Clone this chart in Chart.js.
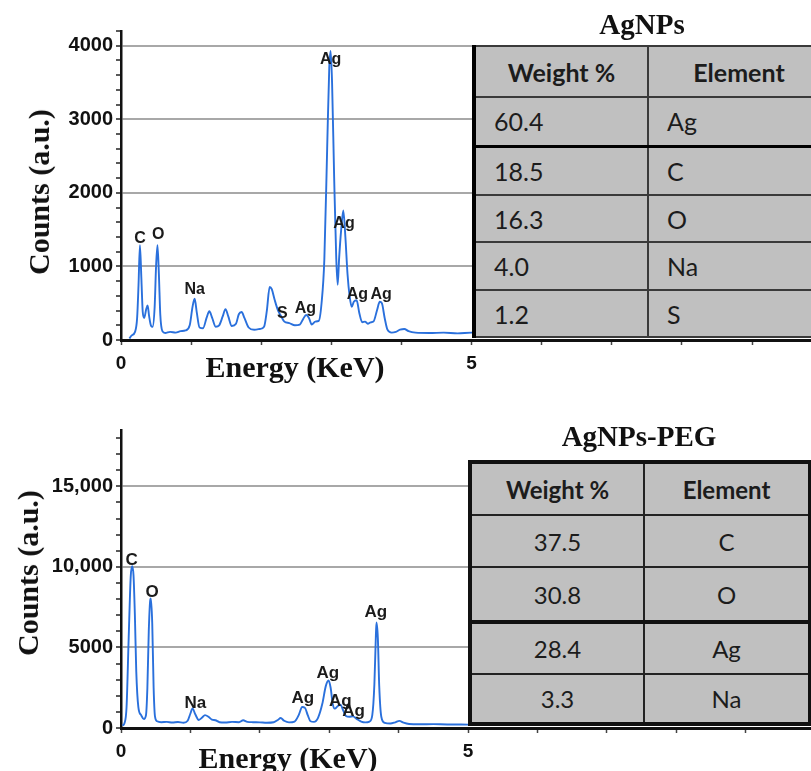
<!DOCTYPE html>
<html>
<head>
<meta charset="utf-8">
<title>EDS spectra - AgNPs / AgNPs-PEG</title>
<script src="https://cdn.jsdelivr.net/npm/chart.js@4.4.1/dist/chart.umd.min.js"></script>
<style>
  html, body { margin: 0; padding: 0; background: #fff; overflow: hidden; }
  #page { position: relative; width: 811px; height: 771px; overflow: hidden; }
  #page canvas { position: absolute; left: 0; }
  .axis-title {
    position: absolute;
    font-family: 'Liberation Serif', 'Times New Roman', serif;
    font-weight: bold; font-size: 30px; line-height: 30px;
    white-space: nowrap; color: #111;
  }
  .axis-title.vert { transform: translate(-50%, -50%) rotate(-90deg); }
  .axis-title.horiz { transform: translateX(-50%); }
  .panel-title {
    position: absolute; width: 240px; margin-left: -120px; text-align: center;
    font-family: 'Liberation Serif', 'Times New Roman', serif;
    font-weight: bold; font-size: 29px; line-height: 29px; color: #111;
  }
  table.eds {
    position: absolute; border-collapse: collapse; table-layout: fixed;
    background: #c0c0c0; color: #1c1c1c;
    font-family: Lato, 'Open Sans', sans-serif;
  }
  table.eds td { padding: 0; vertical-align: middle; }
  #tableTop { left: 472px; top: 45px; font-size: 25px; border-left: 4px solid #000; border-top: 2px solid #333; }
  #tableTop td { border: 2px solid #3a3a3a; padding-left: 18px; }
  #tableTop tr.head td { font-weight: bold; text-align: center; padding-left: 0; }
  #tableTop tr.split td { border-bottom: 3px solid #000; }
  #tableBottom { left: 468px; top: 460px; font-size: 24px; border: 4px solid #111; }
  #tableBottom td { border: 2px solid #222; text-align: center; }
  #tableBottom tr.head td { font-weight: bold; }
  #tableBottom tr.split td { border-bottom: 4px solid #111; }
</style>
</head>
<body>
<div id="page">
  <canvas id="edsTop" width="811" height="400" style="top:0"></canvas>
  <canvas id="edsBottom" width="811" height="371" style="top:400px"></canvas>

  <table class="eds" id="tableTop"></table>
  <table class="eds" id="tableBottom"></table>

  <div class="panel-title" style="left:642px; top:10px">AgNPs</div>
  <div class="panel-title" style="left:639px; top:422px">AgNPs-PEG</div>

  <div class="axis-title vert" style="left:39px; top:192px">Counts (a.u.)</div>
  <div class="axis-title horiz" style="left:295px; top:352px">Energy (KeV)</div>
  <div class="axis-title vert" style="left:28px; top:573px">Counts (a.u.)</div>
  <div class="axis-title horiz" style="left:288px; top:743px">Energy (KeV)</div>
</div>

<script>
// ---- AgNPs spectrum (energy in keV, counts) ----
const energyTop = [
  0.12, 0.15, 0.20, 0.23, 0.25, 0.27, 0.29, 0.31, 0.33, 0.36, 0.38, 0.40, 0.43, 0.45,
  0.48, 0.50, 0.52, 0.54, 0.56, 0.59, 0.63, 0.70, 0.78, 0.85, 0.92, 0.98, 1.02, 1.05,
  1.08, 1.12, 1.17, 1.22, 1.26, 1.30, 1.35, 1.40, 1.45, 1.49, 1.53, 1.58, 1.64, 1.68,
  1.72, 1.76, 1.82, 1.90, 1.98, 2.04, 2.08, 2.12, 2.15, 2.19, 2.24, 2.28, 2.33, 2.40,
  2.48, 2.55, 2.60, 2.64, 2.68, 2.72, 2.77, 2.82, 2.86, 2.90, 2.94, 2.97, 2.99, 3.01,
  3.04, 3.07, 3.09, 3.11, 3.14, 3.17, 3.20, 3.23, 3.26, 3.29, 3.32, 3.36, 3.40, 3.44,
  3.48, 3.52, 3.56, 3.60, 3.65, 3.69, 3.72, 3.76, 3.80, 3.86, 3.92, 3.98, 4.04, 4.10,
  4.20, 4.40, 4.60, 4.80, 5.00, 5.40, 6.00, 7.00, 8.00, 9.00, 9.84
];
const countsTop = [
  20, 60, 110, 300, 750, 1290, 850, 380, 300, 420, 470, 330, 190, 180,
  450, 1000, 1290, 900, 350, 120, 95, 110, 100, 120, 130, 200, 450, 560,
  380, 170, 160, 300, 390, 300, 180, 200, 320, 420, 320, 190, 220, 350,
  380, 300, 170, 140, 150, 180, 400, 720, 690, 550, 400, 330, 250, 230,
  200, 210, 290, 340, 300, 210, 250, 260, 500, 1100, 2600, 3700, 3930, 3500,
  2200, 1100, 750, 1100, 1500, 1760, 1400, 900, 600, 450, 520, 540, 360, 240,
  250, 220, 240, 250, 400, 520, 500, 300, 140, 100, 110, 140, 150, 120,
  100, 95, 100, 90, 100, 95, 90, 90, 85, 85, 80
];
const peakTextTop = ['C', 'O', 'Na', 'S', 'Ag', 'Ag', 'Ag', 'Ag', 'Ag'];
const peakEnergyTop = [0.27, 0.53, 1.05, 2.30, 2.63, 2.99, 3.18, 3.37, 3.71];
const peakCountsTop = [1374, 1429, 688, 354, 427, 3810, 1588, 620, 620];
const yTickValsTop = [0, 1000, 2000, 3000, 4000];
const yTickTextTop = ['0', '1000', '2000', '3000', '4000'];

// ---- AgNPs-PEG spectrum ----
const energyBottom = [
  0.02, 0.05, 0.08, 0.11, 0.14, 0.16, 0.18, 0.20, 0.22, 0.25, 0.29, 0.33, 0.36, 0.38,
  0.40, 0.42, 0.43, 0.45, 0.47, 0.49, 0.52, 0.58, 0.66, 0.74, 0.82, 0.90, 0.96, 1.00,
  1.03, 1.07, 1.12, 1.17, 1.21, 1.26, 1.31, 1.36, 1.42, 1.50, 1.60, 1.70, 1.76, 1.82,
  1.90, 2.00, 2.10, 2.20, 2.26, 2.30, 2.35, 2.42, 2.50, 2.56, 2.61, 2.65, 2.69, 2.73,
  2.78, 2.84, 2.90, 2.95, 2.99, 3.02, 3.05, 3.08, 3.12, 3.16, 3.20, 3.24, 3.29, 3.34,
  3.40, 3.46, 3.52, 3.58, 3.62, 3.65, 3.67, 3.68, 3.70, 3.72, 3.75, 3.80, 3.88, 3.95,
  4.01, 4.07, 4.15, 4.30, 4.50, 4.70, 4.90, 5.10, 6.00, 8.00, 9.94
];
const countsBottom = [
  150, 300, 1300, 5500, 9400, 10050, 9500, 7000, 3500, 1300, 800, 550, 800, 2500,
  6000, 7900, 8050, 6500, 2500, 700, 420, 360, 380, 340, 370, 330, 450, 900,
  1220, 850, 500, 650, 800, 700, 520, 480, 360, 340, 380, 360, 480, 380,
  360, 350, 330, 360, 500, 620, 450, 350, 400, 800, 1300, 1250, 800, 420,
  380, 650, 1500, 2600, 2950, 2500, 1500, 1200, 1350, 1450, 1100, 750, 700, 720,
  550, 400, 350, 400, 800, 2700, 5500, 6550, 5600, 2600, 700, 320, 280, 350,
  440, 330, 250, 230, 240, 220, 220, 200, 200, 190, 190
];
const peakTextBottom = ['C', 'O', 'Na', 'Ag', 'Ag', 'Ag', 'Ag', 'Ag'];
const peakEnergyBottom = [0.154, 0.447, 1.07, 2.62, 2.98, 3.16, 3.35, 3.67];
const peakCountsBottom = [10435, 8447, 1520, 1840, 3400, 1630, 1010, 7170];
const yTickValsBottom = [0, 5000, 10000, 15000];
const yTickTextBottom = ['0', '5000', '10,000', '15,000'];

// x axis: only 0 and 5 are labelled
const xTickVals = [0, 5];
const xTickText = ['0', '5'];

// ---- composition tables ----
const weightTop = ['60.4', '18.5', '16.3', '4.0', '1.2'];
const elementTop = ['Ag', 'C', 'O', 'Na', 'S'];
const weightBottom = ['37.5', '30.8', '28.4', '3.3'];
const elementBottom = ['C', 'O', 'Ag', 'Na'];

const lineColor = '#2a70dc';

// draws the element names above the peaks, placed with the chart scales
const peakLabelPlugin = {
  id: 'peakLabels',
  afterDatasetsDraw(chart, args, opts) {
    const ctx = chart.ctx;
    const xs = chart.scales.x;
    const ys = chart.scales.y;
    ctx.save();
    ctx.font = 'bold ' + opts.size + 'px "Liberation Sans", Arial, sans-serif';
    ctx.fillStyle = '#1b1b1b';
    ctx.textAlign = 'center';
    ctx.textBaseline = 'middle';
    opts.text.forEach(function(t, i) {
      ctx.fillText(t, xs.getPixelForValue(opts.energy[i]), ys.getPixelForValue(opts.counts[i]));
    });
    ctx.restore();
  }
};

// evenly spaced tick marks (minor + major) from 0 up to the axis max
function stepTicks(max, step) {
  const ticks = [];
  for (let v = 0; v <= max + 1e-9; v += step) ticks.push({ value: v });
  return ticks;
}

function makeSpectrum(canvasId, energies, counts, cfg) {
  const ctx = document.getElementById(canvasId).getContext('2d');
  const points = energies.map(function(e, i) { return { x: e, y: counts[i] }; });

  return new Chart(ctx, {
    type: 'line',
    data: {
      datasets: [{
        data: points,
        borderColor: lineColor,
        borderWidth: 1.9,
        pointRadius: 0,
        fill: false,
        cubicInterpolationMode: 'monotone'
      }]
    },
    plugins: [peakLabelPlugin],
    options: {
      responsive: false,
      animation: false,
      events: [],
      layout: { padding: { top: cfg.padTop, bottom: cfg.padBottom, left: 0, right: 0 } },
      plugins: {
        legend: { display: false },
        tooltip: { enabled: false },
        peakLabels: { text: cfg.peakText, energy: cfg.peakEnergy, counts: cfg.peakCounts, size: cfg.labelSize }
      },
      scales: {
        x: {
          type: 'linear',
          min: 0,
          max: cfg.xMax,
          afterBuildTicks: function(s) { s.ticks = stepTicks(cfg.xMax, 1); },
          ticks: {
            autoSkip: false,
            maxRotation: 0,
            padding: 7,
            color: '#111',
            font: { family: 'Liberation Sans', weight: 'bold', size: 19 },
            callback: function(v) {
              const i = xTickVals.indexOf(v);
              return i >= 0 ? xTickText[i] : '';
            }
          },
          grid: { drawOnChartArea: false, tickColor: '#444', tickLength: 5, tickWidth: 1.5 },
          border: { color: '#111', width: 3 },
          afterFit: function(s) { s.height = 40; s.paddingLeft = 0; s.paddingRight = 0; }
        },
        y: {
          min: 0,
          max: cfg.yMax,
          afterBuildTicks: function(s) { s.ticks = stepTicks(cfg.yMax, cfg.minorStep); },
          ticks: {
            autoSkip: false,
            padding: 3,
            color: '#111',
            font: { family: 'Liberation Sans', weight: 'bold', size: 20 },
            callback: function(v) {
              const i = cfg.yTickVals.indexOf(v);
              return i >= 0 ? cfg.yTickText[i] : '';
            }
          },
          grid: {
            color: function(c) {
              return c.tick && c.tick.value > 0 && cfg.yTickVals.indexOf(c.tick.value) >= 0 ? '#a8a8a8' : 'rgba(0,0,0,0)';
            },
            lineWidth: 2,
            tickColor: '#222',
            tickLength: 5,
            tickWidth: 1.5
          },
          border: { color: '#111', width: 2.5 },
          afterFit: function(s) { s.width = 121; s.paddingTop = 0; s.paddingBottom = 0; }
        }
      }
    }
  });
}

function buildTable(id, weights, elements, splitAfter, rowHeights, colWidths) {
  const table = document.getElementById(id);
  let html = '<colgroup><col style="width:' + colWidths[0] + 'px"><col style="width:' + colWidths[1] + 'px"></colgroup>';
  html += '<tr class="head" style="height:' + rowHeights[0] + 'px"><td>Weight %</td><td>Element</td></tr>';
  weights.forEach(function(w, i) {
    const cls = i === splitAfter ? ' class="split"' : '';
    html += '<tr' + cls + ' style="height:' + rowHeights[i + 1] + 'px"><td>' + w + '</td><td>' + elements[i] + '</td></tr>';
  });
  table.innerHTML = html;
  table.style.width = (colWidths[0] + colWidths[1]) + 'px';
}

makeSpectrum('edsTop', energyTop, countsTop, {
  xMax: 9.84, yMax: 4200, minorStep: 200,
  yTickVals: yTickValsTop, yTickText: yTickTextTop,
  padTop: 31, padBottom: 20,
  peakText: peakTextTop, peakEnergy: peakEnergyTop, peakCounts: peakCountsTop, labelSize: 16
});

makeSpectrum('edsBottom', energyBottom, countsBottom, {
  xMax: 9.94, yMax: 18500, minorStep: 1000,
  yTickVals: yTickValsBottom, yTickText: yTickTextBottom,
  padTop: 30, padBottom: 3,
  peakText: peakTextBottom, peakEnergy: peakEnergyBottom, peakCounts: peakCountsBottom, labelSize: 17
});

buildTable('tableTop', weightTop, elementTop, 0, [51, 49, 49, 47, 48, 47], [174, 182]);
buildTable('tableBottom', weightBottom, elementBottom, 1, [53, 52, 55, 52, 50], [174, 166]);
</script>
</body>
</html>
